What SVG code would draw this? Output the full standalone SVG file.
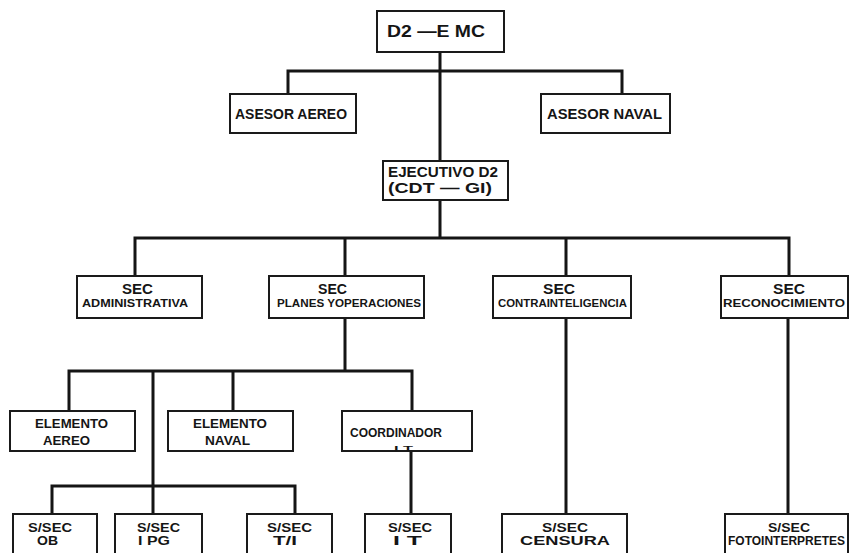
<svg xmlns="http://www.w3.org/2000/svg" width="849" height="553" viewBox="0 0 849 553">
<style>
.box{fill:#fff;stroke:#1a1a1a;stroke-width:2}
.t{font-family:"Liberation Sans",Arial,sans-serif;font-weight:bold;fill:#151515}
.l{fill:none;stroke:#151515;stroke-width:3;stroke-linecap:square}
</style>
<rect width="849" height="553" fill="#fff"/>
<g id="connectors">
<path class="l" d="M440 52V161M288 94V71H622V94"/>
<path class="l" d="M440 200V238M135 276V238H789V276M345 238V276M566 238V276"/>
<path class="l" d="M345 318V371M69 411V371H412V411M233 371V411M153 371V514"/>
<path class="l" d="M52 514V486H295V514"/>
<path class="l" d="M411 451V514M566 318V514M788 318V514"/>
</g>
<g id="d2emc"><rect class="box" x="377" y="11" width="127" height="41"/><text class="t" x="387" y="37" font-size="16" textLength="98" lengthAdjust="spacingAndGlyphs">D2 —E MC</text></g>
<g id="asesor-aereo"><rect class="box" x="230" y="94" width="126" height="39"/><text class="t" x="235" y="119" font-size="15" textLength="112" lengthAdjust="spacingAndGlyphs">ASESOR AEREO</text></g>
<g id="asesor-naval"><rect class="box" x="541" y="94" width="129" height="39"/><text class="t" x="547" y="119" font-size="15" textLength="115" lengthAdjust="spacingAndGlyphs">ASESOR NAVAL</text></g>
<g id="ejecutivo"><rect class="box" x="383" y="161" width="125" height="39"/><text class="t" x="388" y="177" font-size="15" textLength="110" lengthAdjust="spacingAndGlyphs">EJECUTIVO D2</text><text class="t" x="388" y="193" font-size="15" textLength="104" lengthAdjust="spacingAndGlyphs">(CDT — GI)</text></g>
<g id="sec-admin"><rect class="box" x="77" y="276" width="125" height="42"/><text class="t" x="122" y="294" font-size="14" textLength="31" lengthAdjust="spacingAndGlyphs">SEC</text><text class="t" x="82" y="307" font-size="11" textLength="106" lengthAdjust="spacingAndGlyphs">ADMINISTRATIVA</text></g>
<g id="sec-planes"><rect class="box" x="269" y="276" width="155" height="42"/><text class="t" x="318" y="294" font-size="14" textLength="29" lengthAdjust="spacingAndGlyphs">SEC</text><text class="t" x="277" y="307" font-size="11" textLength="144" lengthAdjust="spacingAndGlyphs">PLANES YOPERACIONES</text></g>
<g id="sec-contra"><rect class="box" x="493" y="276" width="138" height="42"/><text class="t" x="543" y="294" font-size="14" textLength="32" lengthAdjust="spacingAndGlyphs">SEC</text><text class="t" x="498" y="307" font-size="11" textLength="129" lengthAdjust="spacingAndGlyphs">CONTRAINTELIGENCIA</text></g>
<g id="sec-recon"><rect class="box" x="721" y="276" width="127" height="42"/><text class="t" x="773" y="294" font-size="14" textLength="32" lengthAdjust="spacingAndGlyphs">SEC</text><text class="t" x="723" y="307" font-size="11" textLength="122" lengthAdjust="spacingAndGlyphs">RECONOCIMIENTO</text></g>
<g id="elem-aereo"><rect class="box" x="10" y="411" width="125" height="40"/><text class="t" x="35" y="428" font-size="12" textLength="73" lengthAdjust="spacingAndGlyphs">ELEMENTO</text><text class="t" x="43" y="445" font-size="12" textLength="47" lengthAdjust="spacingAndGlyphs">AEREO</text></g>
<g id="elem-naval"><rect class="box" x="168" y="411" width="125" height="40"/><text class="t" x="193" y="428" font-size="12" textLength="74" lengthAdjust="spacingAndGlyphs">ELEMENTO</text><text class="t" x="205" y="445" font-size="12" textLength="45" lengthAdjust="spacingAndGlyphs">NAVAL</text></g>
<g id="coordinador"><rect class="box" x="342" y="411" width="130" height="40"/><text class="t" x="350" y="437" font-size="12" textLength="92" lengthAdjust="spacingAndGlyphs">COORDINADOR</text><text class="t" x="394" y="451" font-size="7" textLength="19" lengthAdjust="spacingAndGlyphs">I T</text></g>
<g id="ssec-ob"><rect class="box" x="13" y="514" width="84" height="50"/><text class="t" x="28" y="532" font-size="13" textLength="44" lengthAdjust="spacingAndGlyphs">S/SEC</text><text class="t" x="37" y="545" font-size="12" textLength="21" lengthAdjust="spacingAndGlyphs">OB</text></g>
<g id="ssec-ipg"><rect class="box" x="115" y="514" width="87" height="50"/><text class="t" x="137" y="532" font-size="13" textLength="43" lengthAdjust="spacingAndGlyphs">S/SEC</text><text class="t" x="138" y="545" font-size="12" textLength="32" lengthAdjust="spacingAndGlyphs">I PG</text></g>
<g id="ssec-ti"><rect class="box" x="247" y="514" width="85" height="50"/><text class="t" x="267" y="532" font-size="13" textLength="45" lengthAdjust="spacingAndGlyphs">S/SEC</text><text class="t" x="273" y="545" font-size="12" textLength="24" lengthAdjust="spacingAndGlyphs">T/I</text></g>
<g id="ssec-it"><rect class="box" x="365" y="514" width="86" height="50"/><text class="t" x="388" y="532" font-size="13" textLength="44" lengthAdjust="spacingAndGlyphs">S/SEC</text><text class="t" x="393" y="545" font-size="12" textLength="29" lengthAdjust="spacingAndGlyphs">I T</text></g>
<g id="ssec-censura"><rect class="box" x="502" y="514" width="125" height="50"/><text class="t" x="542" y="532" font-size="13" textLength="46" lengthAdjust="spacingAndGlyphs">S/SEC</text><text class="t" x="520" y="545" font-size="12" textLength="90" lengthAdjust="spacingAndGlyphs">CENSURA</text></g>
<g id="ssec-foto"><rect class="box" x="725" y="514" width="123" height="50"/><text class="t" x="768" y="532" font-size="13" textLength="42" lengthAdjust="spacingAndGlyphs">S/SEC</text><text class="t" x="728" y="545" font-size="12" textLength="117" lengthAdjust="spacingAndGlyphs">FOTOINTERPRETES</text></g>
</svg>
